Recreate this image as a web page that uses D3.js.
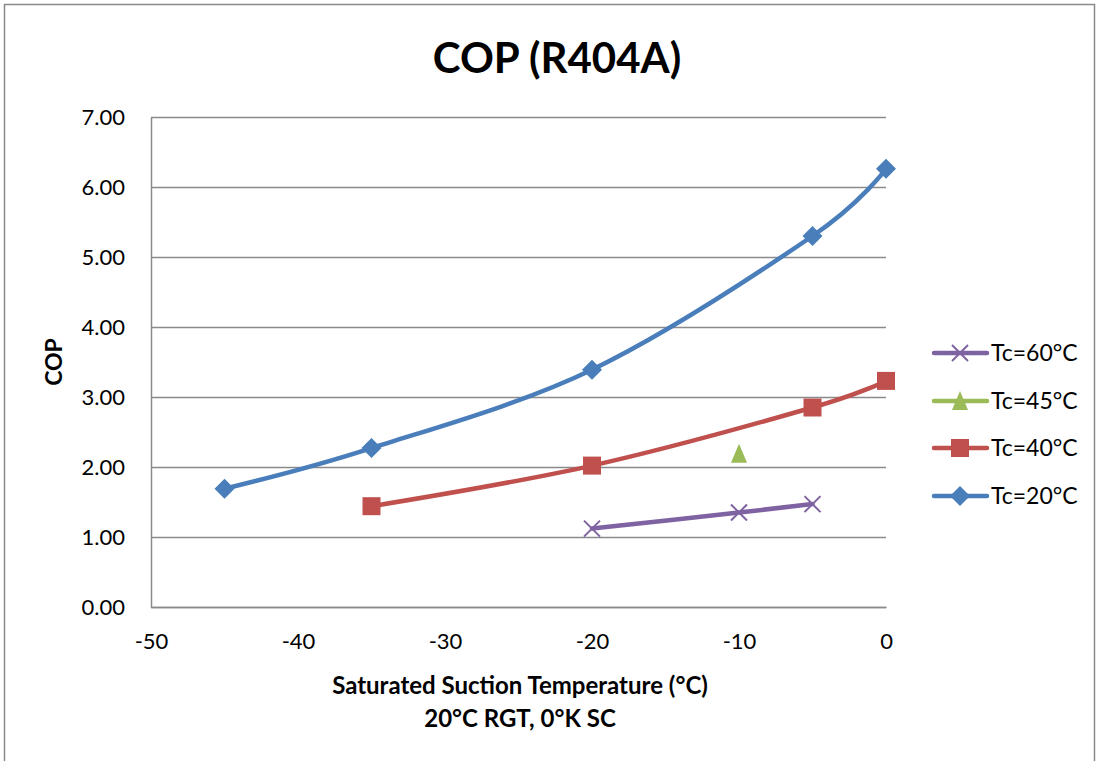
<!DOCTYPE html>
<html>
<head>
<meta charset="utf-8">
<script src="https://cdn.jsdelivr.net/npm/d3@7"></script>
<style>
  body { margin: 0; background: #fff; }
  text { font-family: Lato, "Open Sans", sans-serif; fill: #000; }
</style>
</head>
<body>
<svg class="chart" width="1101" height="761"></svg>
<script>
// ----- data -----
var xTicks = [-50, -40, -30, -20, -10, 0];
var yTicks = [0, 1, 2, 3, 4, 5, 6, 7];
var seriesNames = ['Tc=60°C', 'Tc=45°C', 'Tc=40°C', 'Tc=20°C'];
var tc60x = [-20, -10, -5];
var tc60y = [1.12, 1.35, 1.47];
var tc45x = [-10];
var tc45y = [2.19];
var tc40x = [-35, -20, -5, 0];
var tc40y = [1.44, 2.02, 2.85, 3.23];
var tc20x = [-45, -35, -20, -5, 0];
var tc20y = [1.69, 2.27, 3.39, 5.30, 6.26];

(function() {
    var p = {};
        p.left = 151;
        p.right = 886;
        p.top = 117;
        p.bottom = 607;
        p.gridColor = '#8a8a8a';
        p.lineWidth = 4.5;
        p.tickFont = 22;

    var series = [
        {name: seriesNames[0], xs: tc60x, ys: tc60y, color: '#7f62a1', marker: 'x'},
        {name: seriesNames[1], xs: tc45x, ys: tc45y, color: '#9bbb59', marker: 'triangle'},
        {name: seriesNames[2], xs: tc40x, ys: tc40y, color: '#c0504d', marker: 'square'},
        {name: seriesNames[3], xs: tc20x, ys: tc20y, color: '#4a7ebb', marker: 'diamond'}
    ];

    var svg = d3.select('.chart');

    // border
    svg.append('rect')
        .attr('x', 4.5).attr('y', 4.5)
        .attr('width', 1090).attr('height', 780)
        .attr('fill', 'none')
        .attr('stroke', '#8a8a8a')
        .attr('stroke-width', 1.5);

    svg.append('text')
        .text('COP (R404A)')
        .attr('x', 557).attr('y', 73)
        .attr('text-anchor', 'middle')
        .attr('font-size', 42)
        .attr('font-weight', 'bold');

    var x = d3.scaleLinear().domain([-50, 0]).range([p.left, p.right]);
    var y = d3.scaleLinear().domain([0, 7]).range([p.bottom, p.top]);

    //-----  grid  -----//
    svg.append('g')
        .attr('transform', 'translate(' + p.left + ',0)')
        .call(d3.axisLeft(y).tickValues(yTicks).tickSize(-(p.right - p.left)).tickFormat(''))
        .call(function(g) {
            g.select('.domain').remove();
            g.selectAll('line').attr('stroke', p.gridColor).attr('stroke-width', 1.5);
        });

    //-----  Y Axis  -----//
    svg.append('g')
        .attr('transform', 'translate(' + p.left + ',0)')
        .call(d3.axisLeft(y).tickValues(yTicks).tickSize(0).tickPadding(26).tickFormat(d3.format('.2f')))
        .call(function(g) {
            g.select('.domain').attr('stroke', p.gridColor).attr('stroke-width', 1.5);
            g.selectAll('text').attr('font-size', p.tickFont).attr('font-family', 'Lato, sans-serif');
        });

    //-----  X Axis  -----//
    svg.append('g')
        .attr('transform', 'translate(0,' + p.bottom + ')')
        .call(d3.axisBottom(x).tickValues(xTicks).tickSize(0).tickPadding(26)
            .tickFormat(function(d) { return String(d); }))
        .call(function(g) {
            g.select('.domain').attr('stroke', p.gridColor).attr('stroke-width', 1.5);
            g.selectAll('text').attr('font-size', p.tickFont).attr('font-family', 'Lato, sans-serif');
        });

    svg.append('text')
        .text('COP')
        .attr('transform', 'translate(62,' + (p.top + p.bottom) / 2 + ') rotate(-90)')
        .attr('text-anchor', 'middle')
        .attr('font-size', 23)
        .attr('font-weight', 'bold');

    svg.append('text')
        .text('Saturated Suction Temperature (°C)')
        .attr('x', 520).attr('y', 694)
        .attr('text-anchor', 'middle')
        .attr('font-size', 24)
        .attr('font-weight', 'bold');
    svg.append('text')
        .text('20°C RGT, 0°K SC')
        .attr('x', 520).attr('y', 727)
        .attr('text-anchor', 'middle')
        .attr('font-size', 24)
        .attr('font-weight', 'bold');

    //-----  markers  -----//
    var drawMarker = function(g, type, cx, cy, color) {
        if (type === 'diamond') {
            g.append('path')
                .attr('d', 'M' + cx + ',' + (cy - 10) + 'L' + (cx + 10) + ',' + cy + 'L' + cx + ',' + (cy + 10) + 'L' + (cx - 10) + ',' + cy + 'Z')
                .attr('fill', color);
        } else if (type === 'square') {
            g.append('rect')
                .attr('x', cx - 9).attr('y', cy - 9)
                .attr('width', 18).attr('height', 18)
                .attr('fill', color);
        } else if (type === 'triangle') {
            g.append('path')
                .attr('d', 'M' + cx + ',' + (cy - 10) + 'L' + (cx + 8) + ',' + (cy + 9) + 'L' + (cx - 8) + ',' + (cy + 9) + 'Z')
                .attr('fill', color);
        } else if (type === 'x') {
            g.append('path')
                .attr('d', 'M' + (cx - 8) + ',' + (cy - 8) + 'L' + (cx + 8) + ',' + (cy + 8) + 'M' + (cx + 8) + ',' + (cy - 8) + 'L' + (cx - 8) + ',' + (cy + 8))
                .attr('stroke', color)
                .attr('stroke-width', 2)
                .attr('fill', 'none');
        }
    };

    //-----  series  -----//
    var line = d3.line()
        .x(function(d) { return x(d[0]); })
        .y(function(d) { return y(d[1]); })
        .curve(d3.curveCatmullRom.alpha(0));

    for (var n = series.length - 1; n >= 0; n--) {
        var s = series[n];
        var pts = s.xs.map(function(v, i) { return [v, s.ys[i]]; });
        var g = svg.append('g');
        if (pts.length > 1) {
            g.append('path')
                .datum(pts)
                .attr('d', line)
                .attr('fill', 'none')
                .attr('stroke', s.color)
                .attr('stroke-width', p.lineWidth)
                .attr('stroke-linecap', 'round');
        }
        pts.forEach(function(d) { drawMarker(g, s.marker, x(d[0]), y(d[1]), s.color); });
    }

    //-----  Legend  -----//
    var legendY = [353, 401, 448, 496];
    for (var n = 0; n < series.length; n++) {
        var lg = svg.append('g');
        lg.append('line')
            .attr('x1', 934).attr('x2', 987)
            .attr('y1', legendY[n]).attr('y2', legendY[n])
            .attr('stroke', series[n].color)
            .attr('stroke-width', p.lineWidth)
            .attr('stroke-linecap', 'round');
        drawMarker(lg, series[n].marker, 960, legendY[n], series[n].color);
        lg.append('text')
            .text(series[n].name)
            .attr('x', 991).attr('y', legendY[n] + 8)
            .attr('font-size', 23);
    }
})();
</script>
</body>
</html>
